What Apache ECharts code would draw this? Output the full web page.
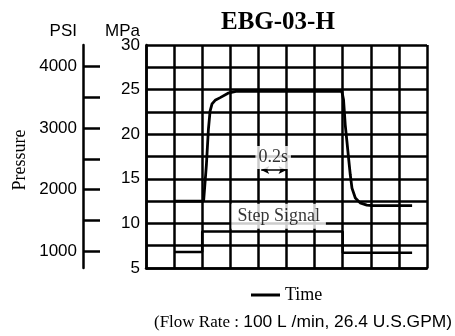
<!DOCTYPE html>
<html>
<head>
<meta charset="utf-8">
<script src="https://cdn.jsdelivr.net/npm/echarts@6/dist/echarts.min.js"></script>
<style>
html,body{margin:0;padding:0;background:#fff;}
#c{width:455px;height:336px;}
</style>
</head>
<body>
<div id="c"></div>
<script>
// ---- data ----
const titleText = 'EBG-03-H';
const mpaRange = [5, 30];
const mpaStep = 2.5;
const mpaToPsi = 1 / 0.00689476;
const psiTicks = [1000, 1500, 2000, 2500, 3000, 3500, 4000];
const psiLabels = [1000, 2000, 3000, 4000];
const timeRange = [0, 2.0];
const timeStep = 0.2;
// pressure response (time s, MPa)
const curveX = [0.2, 0.41, 0.43, 0.444, 0.456, 0.47, 0.492, 0.528, 0.584, 0.64, 1.394, 1.406, 1.418, 1.43, 1.442, 1.454, 1.466, 1.49, 1.524, 1.572, 1.61, 1.894];
const curveY = [12.5, 12.5, 16.6, 20.5, 22.6, 23.4, 23.8, 24.1, 24.6, 24.8, 24.8, 23.85, 21.05, 19.2, 17.3, 15.45, 13.95, 12.85, 12.3, 12.05, 12.0, 12.0];
// step signal (time s, level on MPa scale)
const stepX = [0.2, 0.4, 0.4, 1.4, 1.4, 1.894];
const stepY = [6.8, 6.8, 9.1, 9.1, 6.7, 6.7];
// annotations
const arrowX = [0.82, 1.0];
const arrowY = 16.0;
const periodLabel = '0.2s';
const periodPos = [0.905, 17.4];
const stepLabel = 'Step Signal';
const stepLabelPos = [0.944, 10.8];
const legendName = 'Time';
const captionSerif = '(Flow Rate : ';
const captionSans = '100 L /min, 26.4 U.S.GPM)';

const SANS = 'Liberation Sans';
const SERIF = 'Liberation Serif';

const chart = echarts.init(document.getElementById('c'), null, {renderer: 'canvas'});
const zip = (a, b) => a.map((v, i) => [v, b[i]]);

chart.setOption({
  animation: false,
  backgroundColor: '#fff',
  title: [
    {text: titleText, left: 216, top: 5,
     textStyle: {fontFamily: SERIF, fontWeight: 'bold', fontSize: 25, color: '#000'}},
    {text: '{a|' + captionSerif + '}{b|' + captionSans + '}', left: 149, top: 309,
     textStyle: {fontWeight: 'normal', rich: {
       a: {fontFamily: SERIF, fontSize: 17, fontWeight: 'normal', color: '#000'},
       b: {fontFamily: SANS, fontSize: 17.4, fontWeight: 'normal', color: '#000'}
     }}}
  ],
  legend: {
    data: [{name: legendName, icon: 'rect'}], left: 246, top: 281,
    itemWidth: 29, itemHeight: 3, itemGap: 10,
    textStyle: {fontFamily: SERIF, fontSize: 18, color: '#000'}
  },
  grid: {left: 146, top: 45, right: 28, bottom: 68, containLabel: false},
  xAxis: {
    type: 'value', min: timeRange[0], max: timeRange[1], interval: timeStep,
    axisLine: {show: true, lineStyle: {color: '#000', width: 2.5}},
    axisTick: {show: false}, axisLabel: {show: false},
    splitLine: {show: true, lineStyle: {color: '#000', width: 2.5}}
  },
  yAxis: [
    {
      type: 'value', min: mpaRange[0], max: mpaRange[1], interval: mpaStep, position: 'left',
      name: 'MPa', nameLocation: 'end', nameGap: 5, nameMoveOverlap: false,
      nameTextStyle: {fontFamily: SANS, fontSize: 17, color: '#000', align: 'right', padding: [0, 6, 0, 0]},
      axisLine: {show: true, lineStyle: {color: '#000', width: 2.5}},
      axisTick: {show: false},
      axisLabel: {fontFamily: SANS, fontSize: 17, color: '#000', margin: 6,
        formatter: v => (Math.abs(v % 5) < 1e-9 ? String(v) : '')},
      splitLine: {show: true, lineStyle: {color: '#000', width: 2.5}}
    },
    {
      type: 'value', min: mpaRange[0] * mpaToPsi, max: mpaRange[1] * mpaToPsi,
      position: 'left', offset: 63,
      name: 'PSI', nameLocation: 'end', nameGap: 5, nameMoveOverlap: false,
      nameTextStyle: {fontFamily: SANS, fontSize: 17, color: '#000', align: 'right', padding: [0, 6, 0, 0]},
      axisLine: {show: true, lineStyle: {color: '#000', width: 2.5}},
      axisTick: {show: true, inside: true, length: 17, customValues: psiTicks,
        lineStyle: {color: '#000', width: 2.5}},
      axisLabel: {fontFamily: SANS, fontSize: 17, color: '#000', margin: 6, customValues: psiLabels,
        formatter: v => String(Math.round(v))},
      splitLine: {show: false}
    }
  ],
  graphic: [
    {type: 'text', x: 20, y: 160, rotation: Math.PI / 2,
     style: {text: 'Pressure', fontFamily: SERIF, fontSize: 18, fill: '#000',
       textAlign: 'center', textVerticalAlign: 'middle'}}
  ],
  series: [
    {
      name: 'Step Signal', type: 'line', data: zip(stepX, stepY), yAxisIndex: 0,
      symbol: 'none', lineStyle: {color: '#000', width: 2.5}, z: 3
    },
    {
      name: legendName, type: 'line', data: zip(curveX, curveY), yAxisIndex: 0,
      symbol: 'none', lineStyle: {color: '#000', width: 2.8}, itemStyle: {color: '#000'}, z: 4,
      markLine: {
        silent: true, symbol: ['arrow', 'arrow'], symbolSize: [6, 8],
        label: {show: false},
        lineStyle: {color: '#000', width: 1.5, type: 'solid'},
        data: [[{coord: [arrowX[0], arrowY]}, {coord: [arrowX[1], arrowY]}]]
      }
    },
    {
      name: 'labels', type: 'scatter', yAxisIndex: 0, symbolSize: 0, z: 10,
      data: [
        {value: periodPos, label: {formatter: periodLabel, padding: [3, 3, 2, 3]}},
        {value: stepLabelPos, label: {formatter: stepLabel, padding: [4, 6, 3, 6]}}
      ],
      label: {show: true, position: 'inside', fontFamily: SERIF, fontSize: 18, color: '#000',
        backgroundColor: '#fff'}
    }
  ]
});
</script>
</body>
</html>
